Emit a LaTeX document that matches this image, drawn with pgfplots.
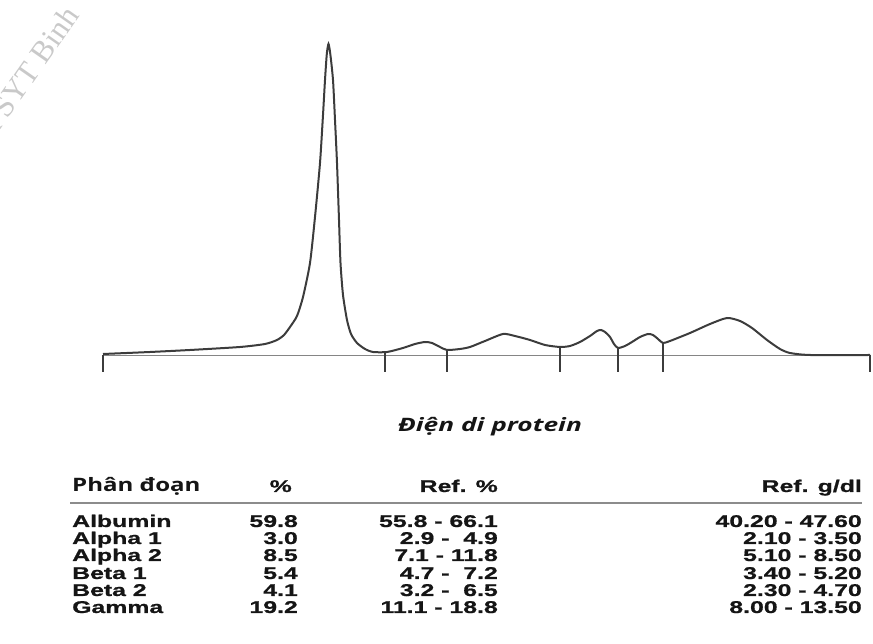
\documentclass[border=0pt]{standalone}
\usepackage{fontspec}
\setmainfont{Liberation Sans}[FakeStretch=1.46, BoldFeatures={FakeBold=0.9}]
\newfontfamily\titlefont{Open Sans}[FakeStretch=1.42]
\newfontfamily\headfont{Open Sans}[FakeStretch=1.3]
\newfontfamily\wmfont{Liberation Serif}
\usepackage{pgfplots}
\pgfplotsset{compat=1.18}
\definecolor{curvecol}{HTML}{3C3C3C}
\definecolor{basecol}{HTML}{858585}
\definecolor{txtcol}{HTML}{151515}
\definecolor{rulecol}{HTML}{8C8C8C}
\begin{document}
\begin{tikzpicture}
\path[use as bounding box] (0,0) rectangle (873pt,644pt);
\begin{axis}[
  at={(0,0)}, anchor=south west,
  width=873pt, height=644pt, scale only axis,
  xmin=0, xmax=873, ymin=0, ymax=644,
  hide axis, clip=false,
  unbounded coords=jump,
]
% watermark
\node[anchor=base west, rotate=55, text=gray!42, font=\wmfont\fontsize{31}{33}\selectfont, inner sep=0pt]
  at (axis cs:-6,505) {u SYT Binh};
% baseline
\addplot[basecol, line width=0.9pt] coordinates {(103,289) (870,289)};
% electrophoresis curve
\addplot[curvecol, line width=2.0pt, smooth, tension=0.4] coordinates {
(103,290) (150,292) (190,294) (240,297) (265,300) (277,304) (284,309) (290,317) (297,328)
(303,347) (310,381) (315,427) (320,481) (323,529) (325,564) (326.8,590) (328.5,600)
(330.3,590) (333,564) (335,524) (337,481) (339,424) (340.5,381) (343,349) (347,324)
(351,310) (357,301) (365,295) (373,292) (387,292) (403,296) (415,300) (425,302)
(432,301) (440,297) (447,294) (460,295) (470,297) (485,303) (503,310) (515,308)
(530,304) (545,299) (560,297) (570,298) (580,302) (590,308) (597,313) (601,314)
(605,312) (610,307) (614,300) (618,296) (625,298) (632,302) (640,307) (648,310)
(653,309) (658,305) (663,301) (670,303) (690,311) (710,320) (727,326) (740,323)
(752,316) (767,304) (780,295) (790,291) (810,289) (870,289)
};
% fraction dividers
\addplot[curvecol, line width=1.4pt] coordinates {
(103,289) (103,272) (nan,nan)
(385,292) (385,272) (nan,nan)
(447,294) (447,272) (nan,nan)
(560,297) (560,272) (nan,nan)
(618,296) (618,272) (nan,nan)
(663,301) (663,272) (nan,nan)
(870,289) (870,272)
};
% title
\node[anchor=base, inner sep=0pt, text=txtcol, font=\titlefont\bfseries\itshape\fontsize{18.5}{20}\selectfont]
  at (axis cs:490,212) {Điện di protein};
% table header
\node[anchor=base west, inner sep=0pt, text=txtcol, font=\headfont\bfseries\fontsize{18.5}{20}\selectfont]
  at (axis cs:72,152) {Phân đoạn};
\begin{scope}[every node/.style={inner sep=0pt, text=txtcol, font=\bfseries\fontsize{17}{18}\selectfont}]
\node[anchor=base east] at (axis cs:292,152) {\%};
\node[anchor=base east] at (axis cs:498,152) {Ref. \%};
\node[anchor=base east] at (axis cs:862,152) {Ref. g/dl};
\end{scope}
\draw[rulecol, line width=1.6pt] (axis cs:70,141) -- (axis cs:862,141);
% table rows
\begin{scope}[every node/.style={inner sep=0pt, text=txtcol, font=\bfseries\fontsize{17}{18}\selectfont}]
\node[anchor=base west] at (axis cs:72,117) {Albumin};
\node[anchor=base west] at (axis cs:72,100) {Alpha 1};
\node[anchor=base west] at (axis cs:72,83) {Alpha 2};
\node[anchor=base west] at (axis cs:72,65) {Beta 1};
\node[anchor=base west] at (axis cs:72,48) {Beta 2};
\node[anchor=base west] at (axis cs:72,31) {Gamma};
\node[anchor=base east] at (axis cs:298,117) {59.8};
\node[anchor=base east] at (axis cs:298,100) {3.0};
\node[anchor=base east] at (axis cs:298,83) {8.5};
\node[anchor=base east] at (axis cs:298,65) {5.4};
\node[anchor=base east] at (axis cs:298,48) {4.1};
\node[anchor=base east] at (axis cs:298,31) {19.2};
\node[anchor=base east] at (axis cs:498,117) {55.8 - 66.1};
\node[anchor=base east] at (axis cs:498,100) {2.9 -~~4.9};
\node[anchor=base east] at (axis cs:498,83) {7.1 - 11.8};
\node[anchor=base east] at (axis cs:498,65) {4.7 -~~7.2};
\node[anchor=base east] at (axis cs:498,48) {3.2 -~~6.5};
\node[anchor=base east] at (axis cs:498,31) {11.1 - 18.8};
\node[anchor=base east] at (axis cs:862,117) {40.20 - 47.60};
\node[anchor=base east] at (axis cs:862,100) {2.10 - 3.50};
\node[anchor=base east] at (axis cs:862,83) {5.10 - 8.50};
\node[anchor=base east] at (axis cs:862,65) {3.40 - 5.20};
\node[anchor=base east] at (axis cs:862,48) {2.30 - 4.70};
\node[anchor=base east] at (axis cs:862,31) {8.00 - 13.50};
\end{scope}
\end{axis}
\end{tikzpicture}
\end{document}
